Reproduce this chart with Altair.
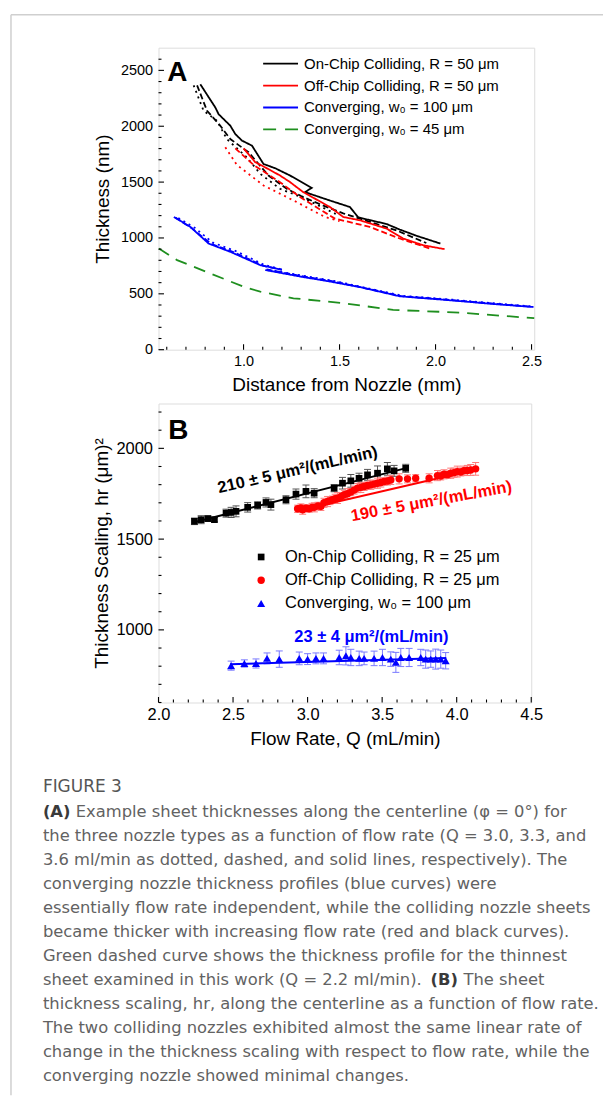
import altair as alt
import pandas as pd

AXIS_FONT = "Liberation Sans"
CAP_FONT = "DejaVu Sans"

# ---------------- Panel A: sheet thickness vs distance (mm, nm) ----------------
on_q30_x = [0.740, 0.792, 0.862, 0.913, 1.017, 1.087, 1.190, 1.277, 1.346, 1.407, 1.480]
on_q30_y = [2366, 2138, 2049, 1885, 1722, 1574, 1440, 1381, 1327, 1277, 1215]
on_q33_x = [0.758, 0.810, 0.879, 0.931, 1.026, 1.130, 1.225, 1.300, 1.400, 1.519, 1.675, 1.800, 1.952]
on_q33_y = [2366, 2138, 2004, 1885, 1767, 1559, 1440, 1375, 1300, 1220, 1135, 1065, 955]
on_q36_x = [0.775, 0.853, 0.870, 0.931, 0.957, 0.992, 1.044, 1.104, 1.165, 1.242, 1.355, 1.320,
            1.450, 1.554, 1.597, 1.657, 1.745, 1.814, 1.900, 2.025]
on_q36_y = [2375, 2168, 2108, 2005, 1930, 1871, 1826, 1662, 1624, 1559, 1448, 1410,
            1335, 1277, 1185, 1160, 1125, 1075, 1020, 950]
off_q30_x = [0.905, 0.965, 1.104, 1.260, 1.424, 1.500]
off_q30_y = [1811, 1654, 1470, 1336, 1188, 1150]
off_q33_x = [0.957, 1.052, 1.190, 1.294, 1.476, 1.657, 1.813, 1.969]
off_q33_y = [1802, 1654, 1499, 1366, 1173, 1099, 995, 906]
off_q36_x = [1.000, 1.061, 1.104, 1.190, 1.242, 1.311, 1.398, 1.450, 1.519, 1.606, 1.745, 1.831, 1.935, 2.047]
off_q36_y = [1802, 1678, 1640, 1559, 1500, 1410, 1327, 1277, 1188, 1158, 1084, 995, 935, 900]
cv_q30_a_x = [0.660, 0.745, 0.840, 0.960, 1.110, 1.190]
cv_q30_a_y = [1178, 1092, 958, 882, 757, 722]
cv_q30_b_x = [1.130, 1.310, 1.470, 1.630, 1.830, 2.070, 2.330, 2.505]
cv_q30_b_y = [716, 662, 616, 556, 482, 450, 412, 386]
cv_q33_a_x = [0.645, 0.730, 0.830, 0.950, 1.100, 1.200]
cv_q33_a_y = [1182, 1088, 948, 872, 752, 716]
cv_q33_b_x = [1.120, 1.300, 1.460, 1.620, 1.820, 2.060, 2.320, 2.500]
cv_q33_b_y = [718, 660, 614, 556, 480, 447, 409, 384]
cv_q36_a_x = [0.637, 0.723, 0.818, 0.931, 1.087, 1.200]
cv_q36_a_y = [1188, 1099, 950, 876, 757, 715]
cv_q36_b_x = [1.113, 1.294, 1.450, 1.606, 1.813, 2.055, 2.315, 2.510]
cv_q36_b_y = [713, 655, 610, 560, 478, 445, 407, 382]
thin_x = [0.559, 0.654, 0.827, 1.000, 1.087, 1.260, 1.519, 1.779, 2.126, 2.514]
thin_y = [906, 802, 682, 564, 519, 460, 416, 356, 332, 282]

A_SERIES = ["on", "off", "cv100", "cv45"]
A_COLORS = ["#000000", "#ff0000", "#0000ff", "#1f8f1f"]
A_QS = ["3.0", "3.3", "3.6", "2.2"]
A_DASHES = [[2, 4], [6, 3], [1, 0], [12, 8]]
A_LEGEND = ["On-Chip Colliding, R = 50 μm", "Off-Chip Colliding, R = 50 μm",
            "Converging, w₀ = 100 μm", "Converging, w₀ = 45 μm"]

A_X_MAJOR = [1.0, 1.5, 2.0, 2.5]
A_X_MINOR = [0.6, 0.7, 0.8, 0.9, 1.1, 1.2, 1.3, 1.4, 1.6, 1.7, 1.8, 1.9, 2.1, 2.2, 2.3, 2.4]
A_Y_MAJOR = [0, 500, 1000, 1500, 2000, 2500]
A_Y_MINOR = [100, 200, 300, 400, 600, 700, 800, 900, 1100, 1200, 1300, 1400, 1600, 1700,
             1800, 1900, 2100, 2200, 2300, 2400, 2600]

# ---------------- Panel B: thickness scaling vs flow rate ----------------
on_Q = [2.241, 2.286, 2.331, 2.375, 2.453, 2.487, 2.520, 2.598, 2.665, 2.721, 2.754, 2.855,
        2.922, 2.989, 3.044, 3.178, 3.234, 3.290, 3.345, 3.402, 3.469, 3.535, 3.580, 3.658]
on_hr = [1598, 1607, 1613, 1607, 1643, 1647, 1653, 1675, 1686, 1702, 1690, 1717,
         1748, 1763, 1753, 1781, 1808, 1821, 1835, 1854, 1863, 1887, 1876, 1890]
on_err = [18, 22, 15, 12, 22, 28, 30, 26, 20, 25, 30, 22, 28, 35, 25, 20, 32, 35, 28, 30, 40, 35, 30, 22]

off_Q = [2.933, 2.955, 2.967, 2.990, 3.011, 3.030, 3.045, 3.070, 3.089, 3.110, 3.134, 3.150,
         3.167, 3.185, 3.201, 3.225, 3.246, 3.268, 3.290, 3.312, 3.335, 3.357, 3.379, 3.402,
         3.424, 3.446, 3.469, 3.491, 3.513, 3.536, 3.558, 3.614, 3.670, 3.725, 3.815, 3.871,
         3.893, 3.915, 3.938, 3.960, 3.982, 4.004, 4.027, 4.049, 4.071, 4.094, 4.127]
off_hr = [1667, 1672, 1662, 1670, 1667, 1675, 1675, 1683, 1680, 1700, 1707, 1712,
          1717, 1722, 1726, 1735, 1744, 1750, 1759, 1770, 1781, 1785, 1790, 1795,
          1799, 1803, 1808, 1812, 1817, 1820, 1826, 1832, 1832, 1835, 1835, 1850,
          1848, 1857, 1855, 1863, 1866, 1872, 1870, 1877, 1878, 1881, 1887]
off_err = [20, 22, 25, 20, 18, 22, 25, 20, 22, 25, 28, 22, 20, 25, 30, 22, 25, 28, 20, 22, 25, 28,
           22, 20, 25, 22, 28, 25, 20, 22, 25, 28, 22, 20, 25, 28, 22, 25, 20, 28, 25, 30, 22, 25,
           28, 30, 35]

cv_Q = [2.487, 2.576, 2.654, 2.728, 2.810, 2.944, 3.000, 3.056, 3.107, 3.212, 3.257, 3.290, 3.346,
        3.379, 3.446, 3.502, 3.558, 3.592, 3.625, 3.681, 3.759, 3.792, 3.826, 3.859, 3.893, 3.926]
cv_hr = [803, 815, 815, 843, 839, 843, 839, 843, 843, 848, 857, 848, 843,
         843, 843, 848, 839, 821, 848, 848, 848, 839, 839, 839, 839, 830]
cv_err = [25, 20, 25, 30, 45, 35, 30, 30, 30, 40, 50, 45, 40, 35, 40, 45, 40, 55, 50, 50, 45, 50,
          45, 55, 50, 45]

fit_on_Q, fit_on_hr = [2.24, 3.66], [1593, 1891]
fit_off_Q, fit_off_hr = [2.93, 4.13], [1655, 1883]
fit_cv_Q, fit_cv_hr = [2.48, 3.93], [811, 845]

B_LEGEND = ["On-Chip Colliding, R = 25 μm", "Off-Chip Colliding, R = 25 μm", "Converging, w₀ = 100 μm"]
B_SHAPES = ["square", "circle", "triangle-up"]
B_COLORS = ["#000000", "#ff0000", "#0000ff"]
B_ERRCOL = ["#555555", "#ff7a7a", "#7a7aff"]
B_SIZES = [45, 55, 65]
B_NOTES = ["210 ± 5 μm²/(mL/min)", "190 ± 5 μm²/(mL/min)", "23 ± 4 μm²/(mL/min)"]

B_X_MAJOR = [2.0, 2.5, 3.0, 3.5, 4.0, 4.5]
B_X_MINOR = [2.1, 2.2, 2.3, 2.4, 2.6, 2.7, 2.8, 2.9, 3.1, 3.2, 3.3, 3.4, 3.6, 3.7, 3.8, 3.9,
             4.1, 4.2, 4.3, 4.4]
B_Y_MAJOR = [1000, 1500, 2000]
B_Y_MINOR = [600, 700, 800, 900, 1100, 1200, 1300, 1400, 1600, 1700, 1800, 1900, 2100, 2200]

CAPTION_TITLE = "FIGURE 3"
CAPTION_PIECES = [
    (0, 0.0, "(A)", True),
    (0, 33.0, "Example sheet thicknesses along the centerline (φ = 0°) for", False),
    (1, 0.0, "the three nozzle types as a function of flow rate (Q = 3.0, 3.3, and", False),
    (2, 0.0, "3.6 ml/min as dotted, dashed, and solid lines, respectively). The", False),
    (3, 0.0, "converging nozzle thickness profiles (blue curves) were", False),
    (4, 0.0, "essentially flow rate independent, while the colliding nozzle sheets", False),
    (5, 0.0, "became thicker with increasing flow rate (red and black curves).", False),
    (6, 0.0, "Green dashed curve shows the thickness profile for the thinnest", False),
    (7, 0.0, "sheet examined in this work (Q = 2.2 ml/min).", False),
    (7, 389.0, "(B)", True),
    (7, 422.0, "The sheet", False),
    (8, 0.0, "thickness scaling, hr, along the centerline as a function of flow rate.", False),
    (9, 0.0, "The two colliding nozzles exhibited almost the same linear rate of", False),
    (10, 0.0, "change in the thickness scaling with respect to flow rate, while the", False),
    (11, 0.0, "converging nozzle showed minimal changes.", False),
]

# ---------------- helpers ----------------
def xaxis(values, fmt, title, lsize, lpad, title_y, w):
    return alt.Axis(values=values, format=fmt, title=title, ticks=False, tickSize=0, domain=False,
                    grid=False, labelFont=AXIS_FONT, labelFontSize=lsize, labelColor="black",
                    labelPadding=lpad, labelFlush=False, titleFont=AXIS_FONT, titleFontSize=19,
                    titleFontWeight="normal", titleColor="black", titleX=w / 2, titleY=title_y,
                    titleBaseline="middle", titleAlign="center")


def yaxis(values, title, lsize, lpad, title_x, h):
    return alt.Axis(values=values, format="d", title=title, ticks=False, tickSize=0, domain=False,
                    grid=False, labelFont=AXIS_FONT, labelFontSize=lsize, labelColor="black",
                    labelPadding=lpad, labelFlush=False, titleFont=AXIS_FONT, titleFontSize=19,
                    titleFontWeight="normal", titleColor="black", titleX=title_x, titleY=h / 2,
                    titleBaseline="middle", titleAlign="center", titleAngle=270)


def tick_layers(xs_major, xs_minor, ys_major, ys_minor, xs, ys, axx, axy, h):
    out = []
    for vals, ln in ((xs_major, 5.5), (xs_minor, 3)):
        out.append(alt.Chart(pd.DataFrame({"v": vals})).mark_rule(color="black", strokeWidth=1.1).encode(
            x=alt.X("v:Q", scale=xs, axis=axx), y=alt.value(h), y2=alt.value(h - ln)))
    for vals, ln in ((ys_major, 5.5), (ys_minor, 3)):
        out.append(alt.Chart(pd.DataFrame({"v": vals})).mark_rule(color="black", strokeWidth=1.1).encode(
            y=alt.Y("v:Q", scale=ys, axis=axy), x=alt.value(0), x2=alt.value(ln)))
    return out


# ---------------- Panel A ----------------
W_A, H_A = 377, 303


def seg(series, q, key, xs, ys):
    return pd.DataFrame({"series": series, "q": q, "key": key, "dist": xs, "thick": ys,
                         "i": list(range(len(xs)))})


dfA = pd.concat([
    seg("on", "3.0", "on30", on_q30_x, on_q30_y),
    seg("on", "3.3", "on33", on_q33_x, on_q33_y),
    seg("on", "3.6", "on36", on_q36_x, on_q36_y),
    seg("off", "3.0", "off30", off_q30_x, off_q30_y),
    seg("off", "3.3", "off33", off_q33_x, off_q33_y),
    seg("off", "3.6", "off36", off_q36_x, off_q36_y),
    seg("cv100", "3.0", "cv30a", cv_q30_a_x, cv_q30_a_y),
    seg("cv100", "3.0", "cv30b", cv_q30_b_x, cv_q30_b_y),
    seg("cv100", "3.3", "cv33a", cv_q33_a_x, cv_q33_a_y),
    seg("cv100", "3.3", "cv33b", cv_q33_b_x, cv_q33_b_y),
    seg("cv100", "3.6", "cv36a", cv_q36_a_x, cv_q36_a_y),
    seg("cv100", "3.6", "cv36b", cv_q36_b_x, cv_q36_b_y),
    seg("cv45", "2.2", "thin", thin_x, thin_y),
], ignore_index=True)

xA = alt.Scale(domain=[0.557, 2.514], nice=False, zero=False)
yA = alt.Scale(domain=[0, 2703], nice=False, zero=False)
axAx = xaxis(A_X_MAJOR, ".1f", "Distance from Nozzle (mm)", 14.5, 5, 35, W_A)
axAy = yaxis(A_Y_MAJOR, "Thickness (nm)", 14.5, 6, -56, H_A)

linesA = alt.Chart(dfA).mark_line(strokeWidth=1.8, strokeCap="butt").encode(
    x=alt.X("dist:Q", scale=xA, axis=axAx),
    y=alt.Y("thick:Q", scale=yA, axis=axAy),
    color=alt.Color("series:N", scale=alt.Scale(domain=A_SERIES, range=A_COLORS), legend=None),
    strokeDash=alt.StrokeDash("q:N", scale=alt.Scale(domain=A_QS, range=A_DASHES), legend=None),
    detail="key:N",
    order=alt.Order("i:Q"),
)

layersA = [linesA] + tick_layers(A_X_MAJOR, A_X_MINOR, A_Y_MAJOR, A_Y_MINOR, xA, yA, axAx, axAy, H_A)
leg_dash_A = [None, None, None, [13, 9]]
for i, lab in enumerate(A_LEGEND):
    ly = 16 + 22 * i
    d = pd.DataFrame({"label": [lab]})
    kw = {"color": A_COLORS[i], "strokeWidth": 1.8}
    if leg_dash_A[i] is not None:
        kw["strokeDash"] = leg_dash_A[i]
    layersA.append(alt.Chart(d).mark_rule(**kw).encode(
        x=alt.value(105), x2=alt.value(140), y=alt.value(ly)))
    layersA.append(alt.Chart(d).mark_text(align="left", baseline="middle", font=AXIS_FONT,
                                          fontSize=15, color="black").encode(
        x=alt.value(146), y=alt.value(ly), text="label:N"))
layersA.append(alt.Chart(pd.DataFrame({"t": ["A"]})).mark_text(
    align="center", baseline="middle", font=AXIS_FONT, fontSize=28, fontWeight="bold",
    color="black").encode(x=alt.value(19), y=alt.value(25), text="t:N"))

panelA = alt.layer(*layersA).properties(width=W_A, height=H_A)

# ---------------- Panel B ----------------
W_B, H_B = 374, 300
xB = alt.Scale(domain=[2.0, 4.5], nice=False, zero=False)
yB = alt.Scale(domain=[600, 2247], nice=False, zero=False)
axBx = xaxis(B_X_MAJOR, ".1f", "Flow Rate, Q (mL/min)", 16.5, 4, 36, W_B)
axBy = yaxis(B_Y_MAJOR, "Thickness Scaling, hr (μm)²", 16.5, 6, -57, H_B)

sets = [(on_Q, on_hr, on_err), (off_Q, off_hr, off_err), (cv_Q, cv_hr, cv_err)]
fits = [(fit_on_Q, fit_on_hr), (fit_off_Q, fit_off_hr), (fit_cv_Q, fit_cv_hr)]

err_layers, fit_layers, point_layers = [], [], []
for k, (qs, hs, es) in enumerate(sets):
    df = pd.DataFrame({"Q": qs, "hr": hs, "err": es})
    base = alt.Chart(df).transform_calculate(lo="datum.hr - datum.err", hi="datum.hr + datum.err")
    err_layers.append(base.mark_rule(color=B_ERRCOL[k], strokeWidth=1).encode(
        x=alt.X("Q:Q", scale=xB, axis=axBx), y=alt.Y("lo:Q", scale=yB, axis=axBy), y2="hi:Q"))
    for fld in ("lo", "hi"):
        err_layers.append(base.mark_tick(orient="horizontal", size=7, thickness=1,
                                         color=B_ERRCOL[k], opacity=1).encode(
            x=alt.X("Q:Q", scale=xB, axis=axBx), y=alt.Y(fld + ":Q", scale=yB, axis=axBy)))
    fq, fh = fits[k]
    fit_layers.append(alt.Chart(pd.DataFrame({"Q": fq, "hr": fh})).mark_line(
        color=B_COLORS[k], strokeWidth=2).encode(
        x=alt.X("Q:Q", scale=xB, axis=axBx), y=alt.Y("hr:Q", scale=yB, axis=axBy)))
    point_layers.append(alt.Chart(df).mark_point(
        shape=B_SHAPES[k], filled=True, size=B_SIZES[k], color=B_COLORS[k], opacity=1).encode(
        x=alt.X("Q:Q", scale=xB, axis=axBx), y=alt.Y("hr:Q", scale=yB, axis=axBy)))

layersB = err_layers + fit_layers + point_layers + tick_layers(
    B_X_MAJOR, B_X_MINOR, B_Y_MAJOR, B_Y_MINOR, xB, yB, axBx, axBy, H_B)

notes_pos = [(2.933, 1881, 347), (3.830, 1708, 349.5), (3.428, 962, 0)]
for k, txt in enumerate(B_NOTES):
    qx, hy, ang = notes_pos[k]
    layersB.append(alt.Chart(pd.DataFrame({"t": [txt]})).mark_text(
        align="center", baseline="middle", font=AXIS_FONT, fontSize=16.5, fontWeight="bold",
        color=B_COLORS[k], angle=ang).encode(
        x=alt.X(datum=qx, type="quantitative", scale=xB, axis=axBx),
        y=alt.Y(datum=hy, type="quantitative", scale=yB, axis=axBy),
        text="t:N"))

for i, lab in enumerate(B_LEGEND):
    ly = 154 + 23.3 * i
    d = pd.DataFrame({"label": [lab]})
    layersB.append(alt.Chart(d).mark_point(shape=B_SHAPES[i], filled=True, size=B_SIZES[i],
                                           color=B_COLORS[i], opacity=1).encode(
        x=alt.value(103), y=alt.value(ly)))
    layersB.append(alt.Chart(d).mark_text(align="left", baseline="middle", font=AXIS_FONT,
                                          fontSize=16.5, color="black").encode(
        x=alt.value(127), y=alt.value(ly), text="label:N"))
layersB.append(alt.Chart(pd.DataFrame({"t": ["B"]})).mark_text(
    align="center", baseline="middle", font=AXIS_FONT, fontSize=28, fontWeight="bold",
    color="black").encode(x=alt.value(20), y=alt.value(28), text="t:N"))

panelB = alt.layer(*layersB).properties(width=W_B, height=H_B)

# ---------------- Caption ----------------
CAP_W, CAP_H = 440, 332
capdf = pd.DataFrame(CAPTION_PIECES, columns=["line", "dx", "text", "bold"])
capbase = alt.Chart(capdf).transform_calculate(px="-116 + datum.dx", py="56 + 24.1 * datum.line")
cap_normal = capbase.transform_filter("!datum.bold").mark_text(
    align="left", baseline="middle", font=CAP_FONT, fontSize=16.4, color="#626262").encode(
    x=alt.X("px:Q", scale=None, axis=None), y=alt.Y("py:Q", scale=None, axis=None), text="text:N")
cap_bold = capbase.transform_filter("datum.bold").mark_text(
    align="left", baseline="middle", font=CAP_FONT, fontSize=16.4, fontWeight="bold",
    color="#3a3a3a").encode(
    x=alt.X("px:Q", scale=None, axis=None), y=alt.Y("py:Q", scale=None, axis=None), text="text:N")
one = pd.DataFrame({"t": [CAPTION_TITLE]})
cap_title = alt.Chart(one).mark_text(align="left", baseline="middle", font=CAP_FONT, fontSize=17,
                                     color="#555555").encode(
    x=alt.value(-116), y=alt.value(31), text="t:N")
border_left = alt.Chart(one).mark_rule(color="#cfcfcf", strokeWidth=1.5).encode(
    x=alt.value(-148), y=alt.value(-744), y2=alt.value(340))
border_top = alt.Chart(one).mark_rule(color="#cfcfcf", strokeWidth=1.5).encode(
    x=alt.value(-148), x2=alt.value(446), y=alt.value(-744))

caption = alt.layer(border_left, border_top, cap_title, cap_normal, cap_bold).properties(
    width=CAP_W, height=CAP_H, view=alt.ViewBackground(strokeWidth=0))

chart = alt.vconcat(panelA, panelB, caption, spacing=54, bounds="flush").properties(
    padding={"left": 2, "top": 4, "right": 0, "bottom": 0}
).configure_view(stroke="black", strokeWidth=1.3).configure(background="white")

chart.save("out.html", embed_options={"renderer": "svg", "actions": False})
